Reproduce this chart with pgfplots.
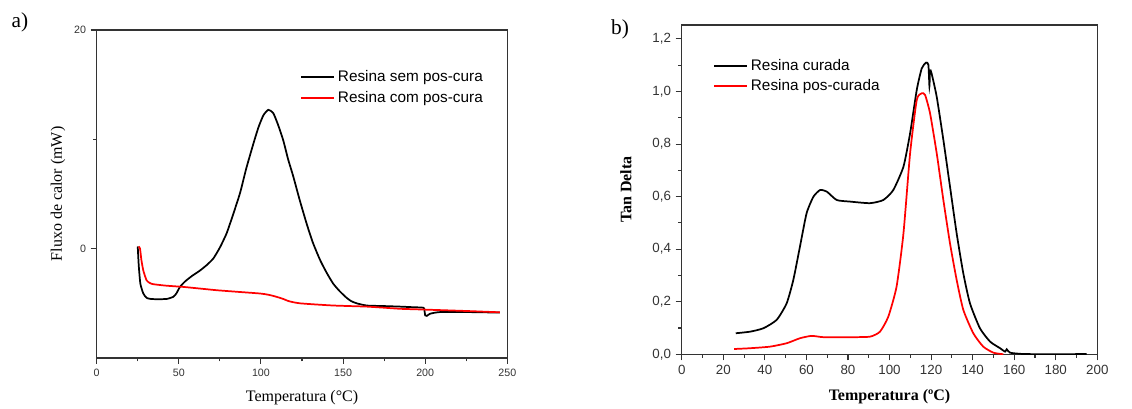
\documentclass[border=0pt]{standalone}
\usepackage{fontspec}
\setmainfont{Liberation Serif}
\newfontfamily\arial{Liberation Sans}
\usepackage{pgfplots}
\pgfplotsset{compat=1.18}
\definecolor{axgray}{HTML}{333333}
\definecolor{pred}{HTML}{FF0000}

\pgfplotsset{
  panel/.style={
    scale only axis, anchor=south west,
    axis line style={axgray, line width=0.9pt},
    tick align=outside, xtick pos=bottom, ytick pos=left,
    major tick length=4.5pt, minor tick length=2.5pt,
    every tick/.style={axgray, line width=0.8pt},
    /pgf/number format/assume math mode=true,
    legend cell align=left,
    legend image code/.code={\draw[##1] (0pt,0pt) -- (25pt,0pt);},
  },
  curve/.style={line width=1.3pt, smooth, tension=0.35},
}

\begin{document}
\begin{tikzpicture}
\path[use as bounding box] (0,0) rectangle (849pt,-306.75pt);

\node[font=\fontsize{16}{18}\selectfont] at (15pt,-17pt) {a)};
\node[font=\fontsize{16}{18}\selectfont] at (465pt,-22pt) {b)};

% a) DSC
\begin{axis}[panel,
  at={(72.5pt,-268.5pt)}, width=308pt, height=246pt,
  xmin=0, xmax=250, ymin=-10, ymax=20,
  xtick={0,50,...,250}, minor x tick num=1,
  ytick={0,20}, minor ytick={10},
  ticklabel style={font=\arial\fontsize{8}{9}\selectfont, axgray},
  xlabel={Temperatura (°C)}, ylabel={Fluxo de calor (mW)},
  label style={font=\fontsize{12}{14}\selectfont},
  xlabel style={at={(axis description cs:0.5,0)}, anchor=center, yshift=-30pt},
  ylabel style={at={(axis description cs:0,0.5)}, anchor=center, yshift=29pt},
  legend style={at={(axis description cs:0.495,0.885)}, anchor=north west,
    draw=none, fill=none, inner sep=0pt, row sep=1.5pt,
    font=\arial\fontsize{11.5}{13}\selectfont},
]
\addplot[curve, black] coordinates {
(25,0.2)(25.6,-1.5)(26.6,-3.2)(28.4,-4.1)(30.4,-4.5)(33,-4.6)(36.5,-4.62)(42.6,-4.6)
(46.7,-4.4)(48.5,-4.1)(50.7,-3.5)(53.8,-3.0)(58,-2.5)(62.9,-2.0)(67,-1.5)(71,-0.9)
(75,0.1)(79.1,1.4)(83,3.1)(87.3,5.1)(91,7.3)(95.4,9.6)(98.5,11.1)(101.5,12.2)
(104.5,12.7)(107.5,12.4)(110.5,11.3)(113.6,9.9)(116.5,8.2)(119.7,6.6)(123.5,4.5)
(127.8,2.3)(131.5,0.6)(135.9,-1.0)(140,-2.2)(144,-3.2)(148,-3.9)(152.2,-4.5)
(155,-4.8)(158.3,-5.0)(164.4,-5.2)(175,-5.25)(184.7,-5.3)(192,-5.35)(198.9,-5.4)
(199.5,-5.6)(200,-6.1)(201,-6.15)(203,-5.95)(209,-5.8)(225,-5.8)(235,-5.82)(245.5,-5.85)
};
\addlegendentry{Resina sem pos-cura}
\addplot[curve, pred] coordinates {
(25.6,0.2)(26.4,0.0)(27.2,-1.0)(28.4,-2.0)(30.4,-2.9)(32.5,-3.15)(34.5,-3.25)
(42,-3.38)(52.8,-3.5)(63,-3.65)(73,-3.8)(86,-3.95)(99.4,-4.1)(104,-4.2)(107.5,-4.32)
(110.5,-4.45)(113.6,-4.6)(116.5,-4.78)(119.7,-4.9)(123.8,-5.0)(133,-5.1)(144,-5.2)
(154,-5.25)(164.4,-5.3)(175,-5.4)(184.7,-5.5)(195,-5.55)(205,-5.6)(225,-5.7)(245.5,-5.82)
};
\addlegendentry{Resina com pos-cura}
\end{axis}

% b) DMA
\begin{axis}[panel,
  at={(511.3pt,-265.7pt)}, width=311.7pt, height=247pt,
  xmin=0, xmax=200, ymin=0, ymax=1.2533,
  xtick={0,20,...,200}, minor x tick num=1,
  ytick={0,0.2,...,1.2}, minor y tick num=1,
  yticklabel style={/pgf/number format/.cd, fixed, fixed zerofill, precision=1, use comma},
  ticklabel style={font=\arial\fontsize{10}{12}\selectfont, axgray},
  xlabel={Temperatura (ºC)}, ylabel={Tan Delta},
  label style={font=\bfseries\fontsize{12}{14}\selectfont},
  xlabel style={at={(axis description cs:0.5,0)}, anchor=center, yshift=-32pt},
  ylabel style={at={(axis description cs:0,0.5)}, anchor=center, yshift=41.8pt},
  legend style={at={(axis description cs:0.075,0.905)}, anchor=north west,
    draw=none, fill=none, inner sep=0pt, row sep=1.5pt,
    font=\arial\fontsize{11.5}{13}\selectfont},
]
\addplot[curve, black] coordinates {
(26,0.080)(32.9,0.086)(39.3,0.099)(45.7,0.131)(50.5,0.194)(53.7,0.283)(56.9,0.410)
(60.1,0.537)(63.4,0.600)(66.6,0.625)(69.8,0.619)(74.6,0.587)(81,0.581)(90.6,0.575)
(97,0.587)(101.8,0.625)(106.7,0.714)(109.9,0.841)(113.1,1.006)(115.5,1.088)
(117.6,1.110)(118.7,1.101)(119.2,1.02)(119.5,1.08)(120.2,1.07)(122.7,0.98)
(125.9,0.816)(129.1,0.638)(132.3,0.460)(135.5,0.308)(138.7,0.194)(143.5,0.099)
(148.4,0.048)(153.2,0.023)(155.6,0.010)(156.4,0.019)(158,0.006)(164.4,0.001)
(180,0.0)(194.9,0.001)
};
\addlegendentry{Resina curada}
\addplot[curve, pred] coordinates {
(25.2,0.020)(32.9,0.023)(42.5,0.029)(50.5,0.042)(56.9,0.061)(62.5,0.070)(68.2,0.065)
(81,0.065)(90.6,0.067)(95.4,0.086)(99.4,0.143)(103.4,0.258)(106.7,0.460)(109.9,0.765)
(113.1,0.968)(115.5,0.993)(117.1,0.987)(119.5,0.917)(122.7,0.765)(125.9,0.587)
(129.1,0.422)(132.3,0.283)(135.5,0.169)(140.3,0.080)(145.1,0.029)(150,0.006)(154.8,0.0)
};
\addlegendentry{Resina pos-curada}
\end{axis}
\end{tikzpicture}
\end{document}
